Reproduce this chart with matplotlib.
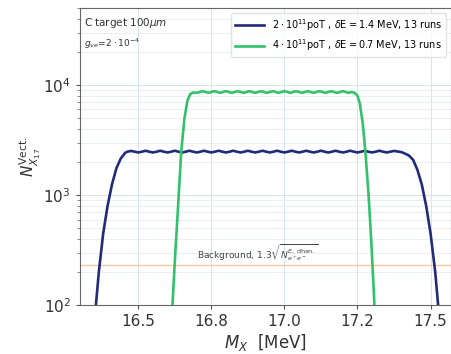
import numpy as np
import matplotlib.pyplot as plt
from matplotlib.ticker import FormatStrFormatter, LogLocator

# --- data ---
# 2e11 poT, dE = 1.4 MeV
x_blue = [16.355, 16.365, 16.380, 16.395, 16.410, 16.425, 16.440, 16.455,
          16.4625, 16.475, 16.4875, 16.500, 16.5125, 16.525, 16.5375, 16.550,
          16.5625, 16.575, 16.5875, 16.600, 16.6125, 16.625, 16.6375, 16.650,
          16.6625, 16.675, 16.6875, 16.700, 16.7125, 16.725, 16.7375, 16.750,
          16.7625, 16.775, 16.7875, 16.800, 16.8125, 16.825, 16.8375, 16.850,
          16.8625, 16.875, 16.8875, 16.900, 16.9125, 16.925, 16.9375, 16.950,
          16.9625, 16.975, 16.9875, 17.000, 17.0125, 17.025, 17.0375, 17.050,
          17.0625, 17.075, 17.0875, 17.100, 17.1125, 17.125, 17.1375, 17.150,
          17.1625, 17.175, 17.1875, 17.200, 17.2125, 17.225, 17.2375, 17.250,
          17.2625, 17.275, 17.2875, 17.300, 17.3125, 17.325, 17.3375, 17.350,
          17.3625, 17.375, 17.3875, 17.400,
          17.410, 17.425, 17.440, 17.455, 17.470, 17.485, 17.500, 17.516, 17.526]
y_blue = [100, 200, 450, 800, 1250, 1750, 2150, 2420,
          2480, 2520, 2480, 2440, 2480, 2530, 2480, 2440,
          2480, 2530, 2480, 2440, 2480, 2530, 2480, 2440,
          2480, 2530, 2480, 2440, 2480, 2530, 2480, 2440,
          2480, 2530, 2480, 2440, 2480, 2530, 2480, 2440,
          2480, 2530, 2480, 2440, 2480, 2530, 2480, 2440,
          2480, 2530, 2480, 2440, 2480, 2530, 2480, 2440,
          2480, 2530, 2480, 2440, 2480, 2530, 2480, 2440,
          2480, 2530, 2480, 2440, 2480, 2530, 2480, 2440,
          2480, 2530, 2480, 2440, 2480, 2530, 2480, 2440,
          2480, 2520, 2490, 2460,
          2400, 2300, 2100, 1700, 1250, 800, 450, 200, 100]

# 4e11 poT, dE = 0.7 MeV
x_green = [16.617, 16.625, 16.635, 16.647, 16.658, 16.668, 16.678, 16.688,
           16.700, 16.710, 16.720, 16.730, 16.740, 16.750, 16.760, 16.770,
           16.780, 16.790, 16.800, 16.810, 16.820, 16.830, 16.840, 16.850,
           16.860, 16.870, 16.880, 16.890, 16.900, 16.910, 16.920, 16.930,
           16.940, 16.950, 16.960, 16.970, 16.980, 16.990, 17.000, 17.010,
           17.020, 17.030, 17.040, 17.050, 17.060, 17.070, 17.080, 17.090,
           17.100, 17.110, 17.120, 17.130, 17.140, 17.150, 17.160, 17.170,
           17.180, 17.190, 17.200, 17.210, 17.220, 17.230, 17.240,
           17.250, 17.258, 17.268, 17.277, 17.288, 17.298, 17.308]
y_green = [100, 250, 700, 2500, 5000, 7200, 8300, 8550,
           8500, 8650, 8800, 8650, 8500, 8650, 8800, 8650,
           8500, 8650, 8800, 8650, 8500, 8650, 8800, 8650,
           8500, 8650, 8800, 8650, 8500, 8650, 8800, 8650,
           8500, 8650, 8800, 8650, 8500, 8650, 8800, 8650,
           8500, 8650, 8800, 8650, 8500, 8650, 8800, 8650,
           8500, 8650, 8800, 8650, 8500, 8650, 8800, 8650,
           8500, 8650, 8800, 8650, 8500, 8650, 8500,
           8000, 6800, 4500, 2500, 1000, 350, 100]

background = 232

label_blue = r"$2\cdot10^{11}$poT , $\delta$E$=$1.4 MeV, 13 runs"
label_green = r"$4\cdot10^{11}$poT , $\delta$E$=$0.7 MeV, 13 runs"
x_ticks = [16.5, 16.75, 17.0, 17.25, 17.5]

# --- figure ---
fig = plt.figure(figsize=(4.51, 3.54), dpi=100)
ax = fig.add_axes([0.177, 0.138, 0.823, 0.839])

ax.plot(x_blue, y_blue, color='#222b7a', lw=1.9, label=label_blue, zorder=3)
ax.plot(x_green, y_green, color='#33c16b', lw=1.9, label=label_green, zorder=3)
ax.axhline(background, color='#f8b98a', lw=1.0, alpha=0.8, zorder=2)
ax.text(16.70, 265, r"Background, $1.3\sqrt{N^{E,\,{\rm dhan.}}_{e^+e^-}}$",
        fontsize=6.5, color='#444444')

ax.set_yscale('log')
ax.set_xlim(16.30, 17.57)
ax.set_ylim(100, 5e4)
ax.set_xticks(x_ticks)
ax.xaxis.set_major_formatter(FormatStrFormatter('%.1f'))
ax.yaxis.set_minor_locator(LogLocator(base=10, subs=np.arange(2, 10)))

ax.grid(True, which='major', color='#d6e6ee', lw=0.7)
ax.grid(True, which='minor', axis='y', color='#e4eef3', lw=0.6)
ax.set_axisbelow(True)

for s in ax.spines.values():
    s.set_color('#666666')
ax.tick_params(axis='both', which='major', labelsize=11, colors='#555555',
               labelcolor='#333333', length=3)
ax.tick_params(axis='y', which='minor', length=2, colors='#777777')

ax.set_xlabel(r"$M_X$  [MeV]", fontsize=12, color='#333333', labelpad=2)
ax.set_ylabel(r"$N_{X_{17}}^{\rm Vect.}$", fontsize=11, color='#333333', labelpad=0)

ax.text(0.012, 0.975, r"C target 100$\mu m$", transform=ax.transAxes,
        fontsize=7.5, color='#333333', va='top')
ax.text(0.012, 0.905, r"$g_{ve}\!=\!2\cdot10^{-4}$", transform=ax.transAxes,
        fontsize=6.5, color='#333333', va='top')

leg = ax.legend(loc='upper right', fontsize=7, frameon=True, fancybox=True,
                borderaxespad=0.5, handlelength=3.0)
leg.get_frame().set_edgecolor('#dddddd')

plt.savefig('out.png', dpi=100)
